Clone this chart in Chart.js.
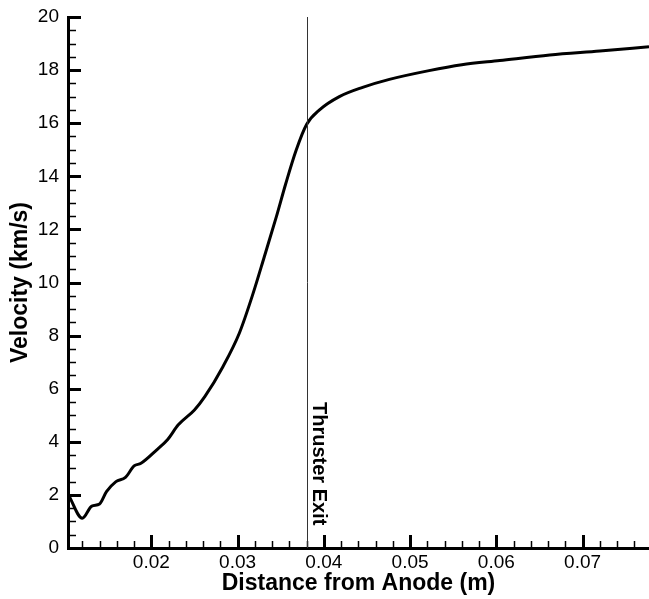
<!DOCTYPE html>
<html>
<head>
<meta charset="utf-8">
<script src="https://cdn.jsdelivr.net/npm/chart.js@4.4.1/dist/chart.umd.min.js"></script>
<style>
  html, body { margin: 0; padding: 0; background: #fff; }
  #wrap { width: 649px; height: 599px; }
</style>
</head>
<body>
<div id="wrap"><canvas id="chart" width="649" height="599"></canvas></div>
<script>
// Velocity profile along the channel
const distance = [0.0104, 0.0120, 0.0131, 0.0140, 0.0148, 0.0159, 0.0170, 0.0180, 0.0188, 0.0206,
                  0.0219, 0.0231, 0.0250, 0.0262, 0.0283, 0.0302, 0.0318, 0.0331, 0.0345, 0.0356,
                  0.0368, 0.0380, 0.0395, 0.0418, 0.0445, 0.0476, 0.0522, 0.0560, 0.0604,
                  0.0662, 0.0720, 0.0777];
const velocity = [2.00, 1.12, 1.58, 1.66, 2.12, 2.50, 2.66, 3.09, 3.19, 3.69,
                  4.09, 4.63, 5.20, 5.70, 6.83, 8.09, 9.59, 10.97, 12.48, 13.74,
                  14.99, 15.95, 16.50, 17.00, 17.35, 17.65, 17.98, 18.20, 18.36,
                  18.57, 18.72, 18.88];

const xTickValues = [0.02, 0.03, 0.04, 0.05, 0.06, 0.07];
const yTickValues = [0, 2, 4, 6, 8, 10, 12, 14, 16, 18, 20];
const xMinorStep = 0.002;
const yMinorStep = 0.5;

const exitPosition = 0.038;
const exitLabel = 'Thruster Exit';
const exitLabelAt = 5.5;

const FONT = '"Liberation Sans", Arial, Helvetica, sans-serif';

// inward tick marks (major + minor), like the original plot
const innerTicks = {
  id: 'innerTicks',
  afterDatasetsDraw(chart) {
    const { ctx, scales: { x, y } } = chart;
    ctx.save();
    ctx.strokeStyle = '#000';
    const xs = Math.ceil(x.min / xMinorStep);
    for (let i = xs; i * xMinorStep <= x.max + 1e-9; i++) {
      const v = i * xMinorStep;
      const major = Math.abs(v * 100 - Math.round(v * 100)) < 1e-6;
      const px = Math.round(x.getPixelForValue(v)) + 0.5;
      ctx.lineWidth = major ? 3 : 1.5;
      ctx.beginPath();
      ctx.moveTo(px, y.bottom);
      ctx.lineTo(px, y.bottom - (major ? 13 : 7));
      ctx.stroke();
    }
    for (let v = y.min; v <= y.max + 1e-9; v += yMinorStep) {
      const major = Math.abs(v / 2 - Math.round(v / 2)) < 1e-6;
      const py = Math.round(y.getPixelForValue(v)) + 0.5;
      ctx.lineWidth = major ? 3 : 1.5;
      ctx.beginPath();
      ctx.moveTo(x.left, py);
      ctx.lineTo(x.left + (major ? 13 : 8), py);
      ctx.stroke();
    }
    ctx.restore();
  }
};

// vertical marker for the thruster exit plane
const exitMarker = {
  id: 'exitMarker',
  afterDatasetsDraw(chart) {
    const { ctx, scales: { x, y } } = chart;
    const px = Math.round(x.getPixelForValue(exitPosition)) + 0.5;
    ctx.save();
    ctx.strokeStyle = '#333';
    ctx.lineWidth = 1;
    ctx.beginPath();
    ctx.moveTo(px, y.getPixelForValue(y.max));
    ctx.lineTo(px, y.getPixelForValue(y.min));
    ctx.stroke();
    ctx.translate(px + 5.5, y.getPixelForValue(exitLabelAt));
    ctx.rotate(Math.PI / 2);
    ctx.fillStyle = '#000';
    ctx.font = 'bold 20px ' + FONT;
    ctx.textAlign = 'left';
    ctx.textBaseline = 'alphabetic';
    ctx.fillText(exitLabel, 0, 0);
    ctx.restore();
  }
};

new Chart(document.getElementById('chart'), {
  type: 'line',
  data: {
    datasets: [{
      data: distance.map((d, i) => ({ x: d, y: velocity[i] })),
      borderColor: '#000',
      borderWidth: 3,
      pointRadius: 0,
      cubicInterpolationMode: 'monotone',
      fill: false
    }]
  },
  options: {
    responsive: false,
    animation: false,
    devicePixelRatio: 1,
    layout: { padding: { top: 17, right: 0, left: 0, bottom: 0 } },
    plugins: { legend: { display: false }, tooltip: { enabled: false } },
    scales: {
      x: {
        type: 'linear',
        min: 0.01034,
        max: 0.0777,
        afterBuildTicks: s => { s.ticks = xTickValues.map(v => ({ value: v })); },
        afterFit: s => { s.height = 51; s.paddingLeft = 0; s.paddingRight = 0; },
        grid: { display: false, drawTicks: false },
        border: { display: true, width: 3, color: '#000' },
        ticks: {
          color: '#000',
          padding: 3,
          maxRotation: 0,
          autoSkip: false,
          font: { family: FONT, size: 19 },
          callback: v => v.toFixed(2)
        },
        title: {
          display: true,
          text: 'Distance from Anode (m)',
          color: '#000',
          font: { family: FONT, size: 23, weight: 'bold' },
          padding: { top: 0, bottom: 2 }
        }
      },
      y: {
        min: 0,
        max: 20,
        afterBuildTicks: s => { s.ticks = yTickValues.map(v => ({ value: v })); },
        afterFit: s => { s.width = 68; s.paddingTop = 0; s.paddingBottom = 0; },
        grid: { display: false, drawTicks: false },
        border: { display: true, width: 3, color: '#000' },
        ticks: {
          color: '#000',
          padding: 9,
          autoSkip: false,
          font: { family: FONT, size: 19 },
          callback: v => String(v)
        },
        title: {
          display: true,
          text: 'Velocity (km/s)',
          color: '#000',
          font: { family: FONT, size: 23, weight: 'bold' },
          padding: { top: 7, bottom: 0 }
        }
      }
    }
  },
  plugins: [innerTicks, exitMarker]
});
</script>
</body>
</html>
